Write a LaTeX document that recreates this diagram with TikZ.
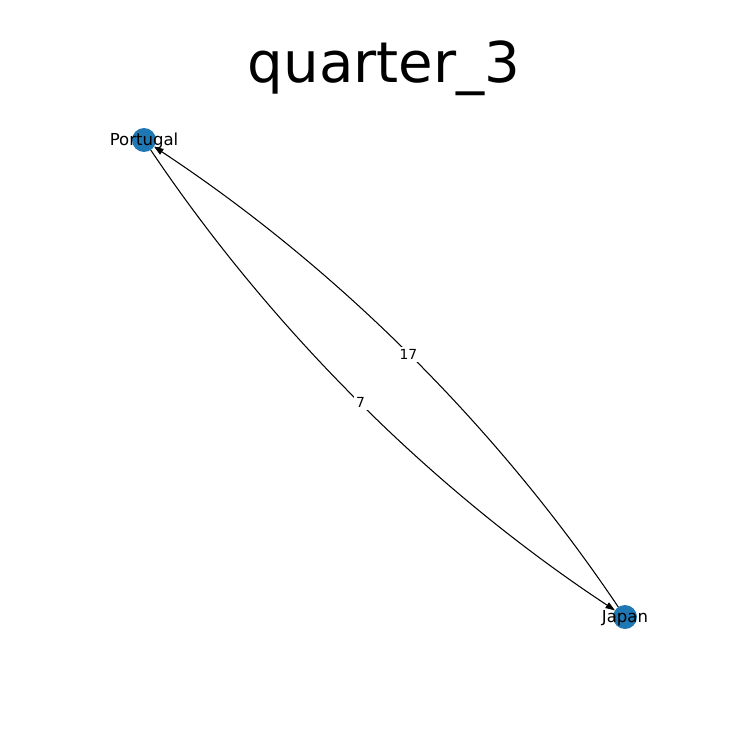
\documentclass[tikz,border=0pt]{standalone}
\usepackage{fontspec}
\setmainfont{DejaVu Sans}
\usetikzlibrary{arrows.meta}
\definecolor{nodeblue}{HTML}{1F77B4}
\tikzstyle{country} = [circle, fill=nodeblue, minimum size=0.48cm, inner sep=0pt, outer sep=0pt]
\tikzstyle{cname} = [font=\fontsize{9.4}{11}\selectfont, inner sep=0pt]
\tikzstyle{weight} = [fill=white, font=\fontsize{7.9}{9}\selectfont, inner sep=1.5pt]
\tikzstyle{arrow} = [->, >={Triangle[length=1.9mm,width=1.3mm]}, line width=0.6pt]

\begin{document}
\begin{tikzpicture}[x=0.02cm, y=-0.02cm]
    \useasboundingbox (0,0) rectangle (750,750);
    % title
    \node (title) [font=\fontsize{32}{38}\selectfont] at (384,68) {quarter\_3};

    % countries
    \node (pt) [country] at (144,140) {};
    \node (jp) [country] at (625,617) {};

    % edges
    \draw [arrow] (jp) .. controls (496.5,425.9) and (336.1,266.9) .. (pt);
    \draw [arrow] (pt) .. controls (272.5,331.1) and (432.9,490.1) .. (jp);

    % edge weights
    \node (w17) [weight] at (408.4,354.5) {17};
    \node (w7) [weight] at (360.6,402.5) {7};

    % names
    \node (ptname) [cname] at (144,141) {Portugal};
    \node (jpname) [cname] at (625,618) {Japan};
\end{tikzpicture}
\end{document}
